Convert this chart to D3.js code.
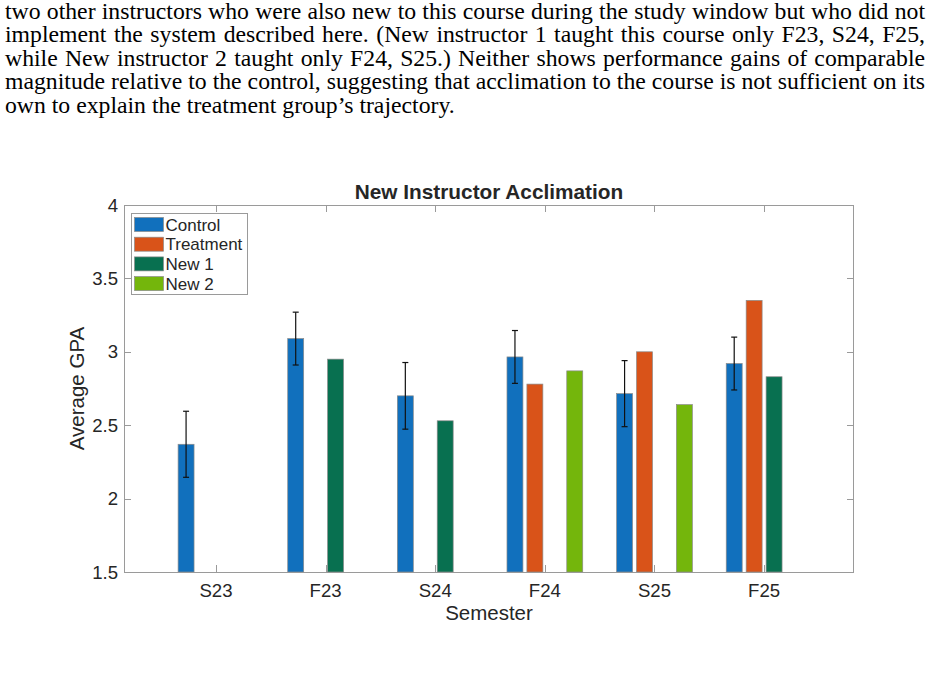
<!DOCTYPE html>
<html><head><meta charset="utf-8">
<script src="https://cdn.jsdelivr.net/npm/d3@7"></script>
<style>html,body{margin:0;padding:0;background:#fff;overflow:hidden}</style>
</head><body>
<svg id="c" width="934" height="687"></svg>
<script>
const paragraph = [
  "two other instructors who were also new to this course during the study window but who did not",
  "implement the system described here. (New instructor 1 taught this course only F23, S24, F25,",
  "while New instructor 2 taught only F24, S25.) Neither shows performance gains of comparable",
  "magnitude relative to the control, suggesting that acclimation to the course is not sufficient on its",
  "own to explain the treatment group\u2019s trajectory."
];
const categories = ["S23","F23","S24","F24","S25","F25"];
const seriesNames = ["Control","Treatment","New 1","New 2"];
const control   = [2.37, 3.09, 2.70, 2.965, 2.715, 2.92];
const controlErr= [0.225, 0.18, 0.227, 0.18, 0.225, 0.18];
const treatment = [null, null, null, 2.78, 3.00, 3.35];
const new1      = [null, 2.95, 2.53, null, null, 2.83];
const new2      = [null, null, null, 2.87, 2.64, null];
const yTicks = [1.5, 2, 2.5, 3, 3.5, 4];
const yTickLabels = ["1.5","2","2.5","3","3.5","4"];
const colors = ["#1170BD","#D95319","#087050","#74B60C"];

const svg = d3.select("#c");
const L = 124, R = 854, T = 205, B = 572;

// paragraph text (justified)
const pg = svg.append("g").attr("font-family","'Liberation Serif','Times New Roman',serif")
  .attr("font-size", 22.5).attr("fill","#000");
const lines = paragraph.map((line, i) => pg.append("text").attr("x", 0).attr("y", 19 + i*23.4).text(line));
const lastW = lines[lines.length-1].node().getComputedTextLength();
const sx = (455 - 5) / lastW;
pg.attr("transform", `translate(5,0) scale(${sx},1)`);
lines.forEach((t, i) => {
  if (i < lines.length - 1) {
    const line = paragraph[i];
    const w = t.node().getComputedTextLength();
    const spaces = (line.match(/ /g) || []).length;
    t.attr("word-spacing", ((925 - 5) / sx - w) / spaces);
  }
});

const x = d3.scaleLinear().domain([0.161, 6.82]).range([L, R]);
const y = d3.scaleLinear().domain([1.5, 4]).range([B, T]);
const gw = Math.min(0.8, 4/(4+1.5));
const bw = gw/4*0.8;
const offs = [-1.5,-0.5,0.5,1.5].map(k => k*gw/4);
const allSeries = [control, treatment, new1, new2];

const axisColor = "#9a9a9a";
// ticks (behind bars)
const tg = svg.append("g").attr("stroke", axisColor).attr("stroke-width", 1);
categories.forEach((c,i) => {
  const xx = Math.round(x(i+1)) + 0.5;
  tg.append("line").attr("x1",xx).attr("x2",xx).attr("y1",B).attr("y2",B-7);
  tg.append("line").attr("x1",xx).attr("x2",xx).attr("y1",T).attr("y2",T+7);
});
yTicks.forEach(v => {
  const yy = Math.round(y(v)) + 0.5;
  tg.append("line").attr("x1",L).attr("x2",L+7).attr("y1",yy).attr("y2",yy);
  tg.append("line").attr("x1",R).attr("x2",R-7).attr("y1",yy).attr("y2",yy);
});

// bars
allSeries.forEach((s, si) => {
  svg.append("g").selectAll("rect").data(s.map((v,i)=>({v,i})).filter(d => d.v != null))
    .join("rect")
    .attr("x", d => x(d.i+1+offs[si]-bw/2))
    .attr("width", d => x(bw) - x(0))
    .attr("y", d => y(d.v))
    .attr("height", d => y(1.5) - y(d.v))
    .attr("fill", colors[si])
    .attr("stroke", "#8a8a8a").attr("stroke-width", 0.7);
});

// error bars on control
const eg = svg.append("g").attr("stroke","#111").attr("stroke-width",1.2);
control.forEach((v,i) => {
  const cx = x(i+1+offs[0]);
  const y1 = y(v + controlErr[i]), y2 = y(v - controlErr[i]);
  eg.append("line").attr("x1",cx).attr("x2",cx).attr("y1",y1).attr("y2",y2);
  eg.append("line").attr("x1",cx-3).attr("x2",cx+3).attr("y1",y1).attr("y2",y1);
  eg.append("line").attr("x1",cx-3).attr("x2",cx+3).attr("y1",y2).attr("y2",y2);
});

// axes box
svg.append("rect").attr("x",L+0.5).attr("y",T+0.5).attr("width",R-L-1).attr("height",B-T)
  .attr("fill","none").attr("stroke",axisColor).attr("stroke-width",1);

const font = "'Liberation Sans',Arial,Helvetica,sans-serif";
const txt = "#262626";
// tick labels
svg.append("g").selectAll("text").data(categories).join("text")
  .attr("x",(d,i)=>x(i+1)).attr("y",597).attr("text-anchor","middle")
  .attr("font-family",font).attr("font-size",18.6).attr("fill",txt).text(d=>d);
svg.append("g").selectAll("text").data(yTicks).join("text")
  .attr("x",118).attr("y",d=>y(d)+6.5).attr("text-anchor","end")
  .attr("font-family",font).attr("font-size",18.6).attr("fill",txt).text((d,i)=>yTickLabels[i]);

// axis labels and title
svg.append("text").attr("x",(L+R)/2).attr("y",620).attr("text-anchor","middle")
  .attr("font-family",font).attr("font-size",20.5).attr("fill",txt).text("Semester");
svg.append("text").attr("transform",`translate(84,${(T+B)/2}) rotate(-90)`).attr("text-anchor","middle")
  .attr("font-family",font).attr("font-size",20.5).attr("fill",txt).text("Average GPA");
svg.append("text").attr("x",(L+R)/2).attr("y",198.5).attr("text-anchor","middle")
  .attr("font-family",font).attr("font-size",20.8).attr("font-weight","bold").attr("fill",txt)
  .text("New Instructor Acclimation");

// legend
const lg = svg.append("g");
lg.append("rect").attr("x",131.5).attr("y",213.5).attr("width",116).attr("height",81)
  .attr("fill","#fff").attr("stroke",axisColor).attr("stroke-width",1);
seriesNames.forEach((n,i) => {
  const yy = 217.5 + i*19.7;
  lg.append("rect").attr("x",134.5).attr("y",yy).attr("width",29).attr("height",14)
    .attr("fill",colors[i]).attr("stroke","#8a8a8a").attr("stroke-width",0.7);
  lg.append("text").attr("x",165.5).attr("y",yy+13).attr("font-family",font).attr("font-size",17)
    .attr("fill",txt).text(n);
});
</script>
</body></html>
